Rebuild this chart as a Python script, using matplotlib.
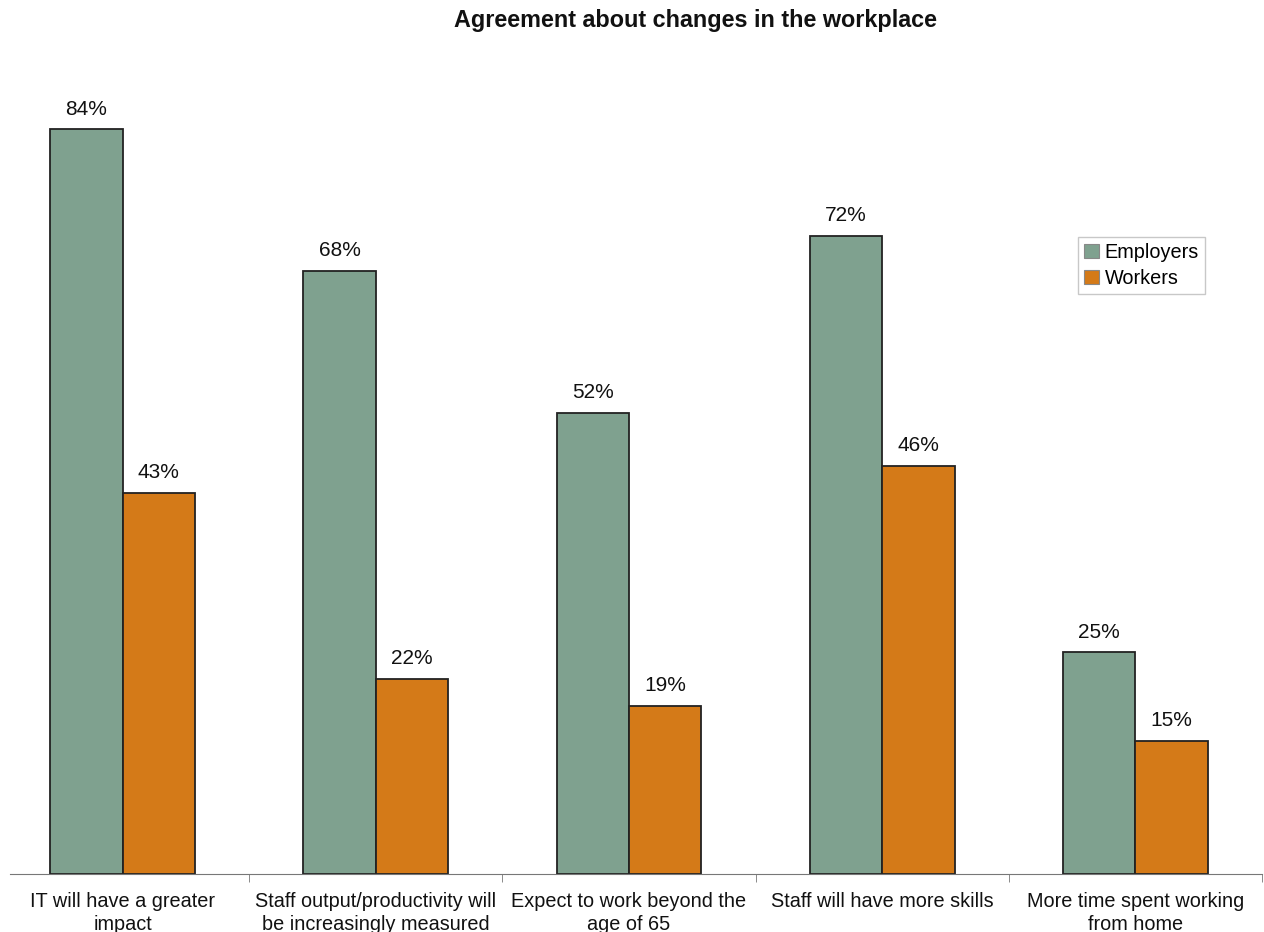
import numpy as np
import matplotlib.pyplot as plt
from matplotlib.ticker import FixedLocator

plt.rcParams['font.family'] = ['Liberation Sans', 'DejaVu Sans']

categories = ['IT will have a greater\nimpact',
              'Staff output/productivity will\nbe increasingly measured',
              'Expect to work beyond the\nage of 65',
              'Staff will have more skills',
              'More time spent working\nfrom home']
employers = [84, 68, 52, 72, 25]
workers = [43, 22, 19, 46, 15]

c_emp = '#7fa18f'
c_wrk = '#d47a18'

fig = plt.figure(figsize=(12.64, 9.32), dpi=100)
ax = fig.add_axes([10/1264, 1 - 874/932, 1252/1264, (874 - 76)/932])

x = np.arange(len(categories))
w = 0.286
ax.bar(x - w/2, employers, w, color=c_emp, edgecolor='#222222', linewidth=1.3, label='Employers')
ax.bar(x + w/2, workers, w, color=c_wrk, edgecolor='#222222', linewidth=1.3, label='Workers')

for xi, v in zip(x - w/2, employers):
    ax.text(xi, v + 1.2, f'{v}%', ha='center', va='bottom', fontsize=15, color='#111111')
for xi, v in zip(x + w/2, workers):
    ax.text(xi, v + 1.2, f'{v}%', ha='center', va='bottom', fontsize=15, color='#111111')

ax.set_xlim(-0.5 + 14/253.3, 4.5)
ax.set_ylim(0, 90)

for s in ['left', 'right', 'top']:
    ax.spines[s].set_visible(False)
ax.spines['bottom'].set_color('#777777')
ax.set_yticks([])

ax.set_xticks(x)
ax.set_xticklabels(categories, fontsize=14.3, color='#111111', linespacing=1.25)
ax.tick_params(axis='x', which='major', length=0, pad=13)
ax.xaxis.set_minor_locator(FixedLocator([0.5, 1.5, 2.5, 3.5, 4.5]))
ax.tick_params(axis='x', which='minor', length=6, color='#777777')

leg = ax.legend(loc='upper left', bbox_to_anchor=(1068/1252, 1 - (237 - 76)/798),
                fontsize=14.3, frameon=True, fancybox=False, edgecolor='#bbbbbb',
                handlelength=0.75, handleheight=0.75, handletextpad=0.3,
                borderpad=0.3, labelspacing=0.35, borderaxespad=0)
for h in leg.legend_handles:
    h.set_edgecolor('#888888')
    h.set_linewidth(0.8)

fig.text(695/1264, 1 - 21/932, 'Agreement about changes in the workplace',
         ha='center', va='center', fontsize=16.8, fontweight='bold', color='#111111')

fig.savefig('out.png', dpi=100)
